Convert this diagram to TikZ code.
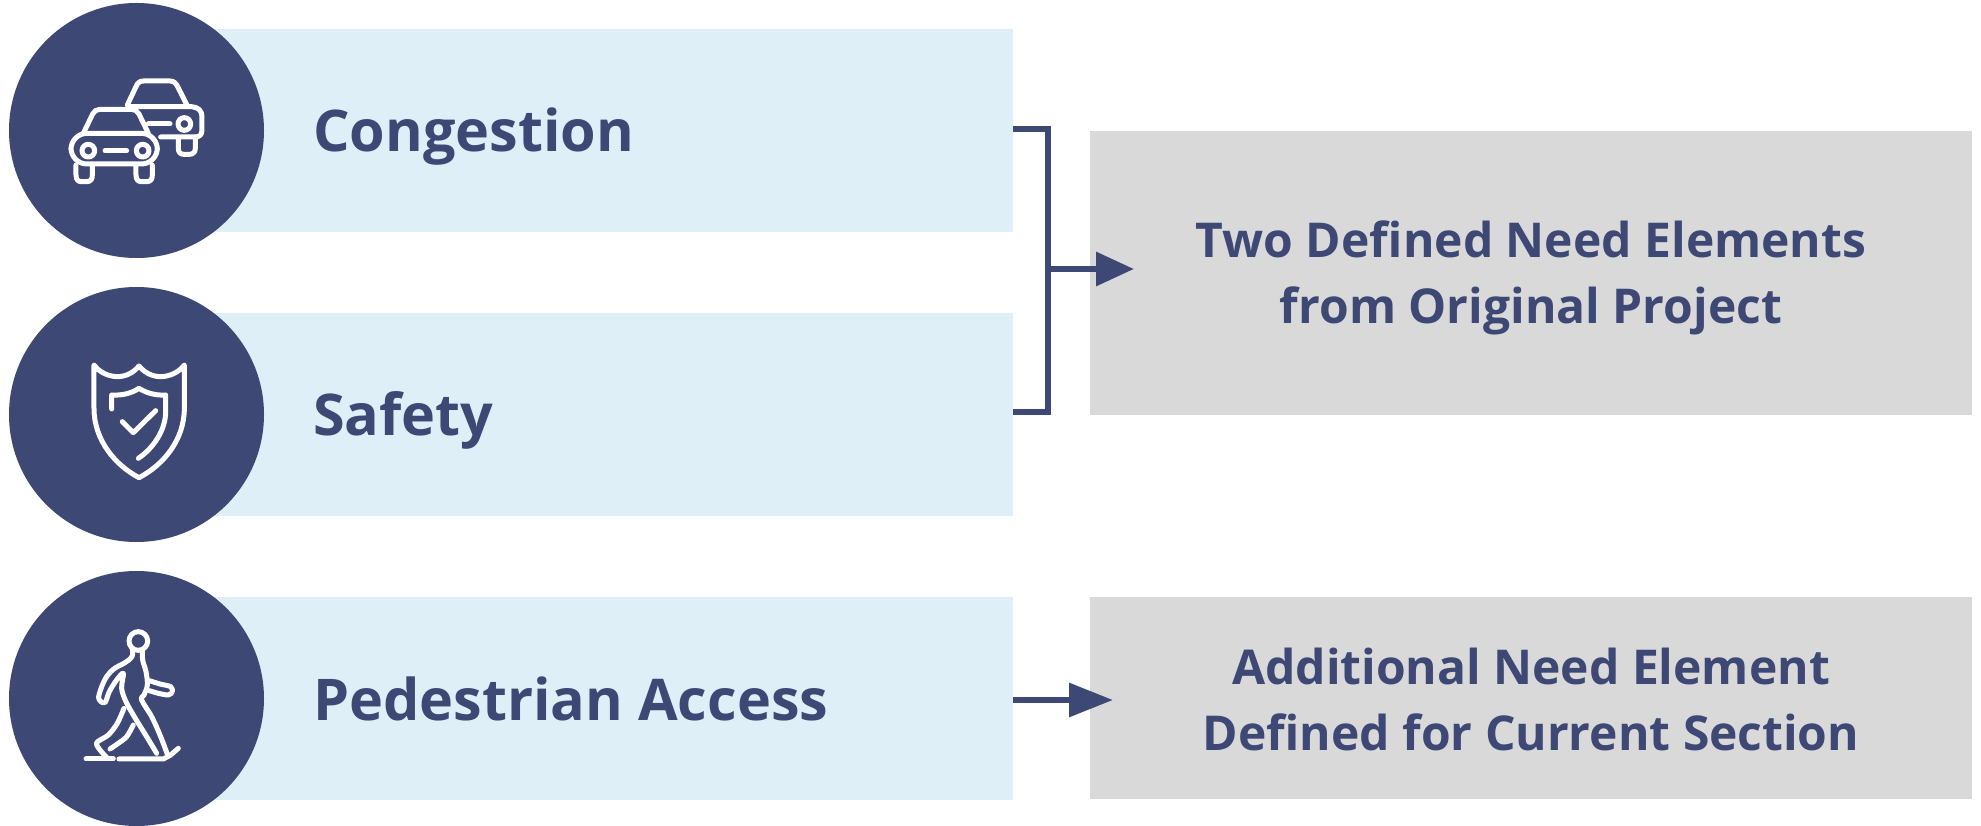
\documentclass[tikz,border=0pt]{standalone}
\usepackage{fontspec}
\setmainfont{Open Sans}
\usetikzlibrary{arrows.meta,calc}
\definecolor{navy}{HTML}{3D4875}
\definecolor{band}{HTML}{DFEFF8}
\definecolor{graybox}{HTML}{D9D9D9}
\tikzset{
  bandbox/.style={fill=band,draw=none,inner sep=0pt,minimum width=877pt,minimum height=203pt},
  graycell/.style={fill=graybox,draw=none,inner sep=0pt,minimum width=882pt,minimum height=284pt},
  graycellb/.style={fill=graybox,draw=none,inner sep=0pt,minimum width=882pt,minimum height=202pt},
  caption/.style={text=navy,align=center,inner sep=0pt,font=\fontsize{48}{66}\selectfont\bfseries},
  disc/.style={circle,fill=navy,draw=none,inner sep=0pt,minimum size=255pt},
  label/.style={text=navy,anchor=base west,inner sep=0pt,font=\fontsize{57.5}{66}\selectfont\bfseries},
  link/.style={draw=navy,line width=6.4pt,line join=miter},
  head/.style={-{Triangle[length=38pt,width=33pt]}},
  headb/.style={-{Triangle[length=44pt,width=33pt]}},
  icon/.style={draw=white,line width=5pt,line cap=round,line join=round,scale=1/3}
}
\begin{document}
\begin{tikzpicture}[x=1pt,y=-1pt]
\useasboundingbox (0,0) rectangle (1981,826);
% bands
\node[bandbox] (b1) at (574.5,130.5) {};
\node[bandbox] (b2) at (574.5,414.5) {};
\node[bandbox] (b3) at (574.5,698) {};
% discs
\node[disc] (c1) at (136.5,130.5) {};
\node[disc] (c2) at (136.5,414.5) {};
\node[disc] (c3) at (136.5,698.5) {};
% labels
\node[label] (t1) at (313,152) {Congestion};
\node[label] (t2) at (313,435) {Safety};
\node[label] (t3) at (313,720) {Pedestrian Access};
% right boxes
\node[graycell] (g1) at (1531,273) {};
\node[graycellb] (g2) at (1531,698) {};
\node[caption] (g1t) at (1531,278) {Two Defined Need Elements\\from Original Project};
\node[caption] (g2t) at (1531,699) {Additional Need Element\\Defined for Current Section};
% connectors
\coordinate (ja) at ($(b1.east)+(0,-1.5)$);
\coordinate (jb) at ($(b2.east)+(0,-2.5)$);
\coordinate (jc) at (1048,269);
\coordinate (jt) at (1134,269);
\coordinate (kt) at (1113,700);
\coordinate (ks) at (b3.east |- kt);
\draw[link] (ja) -| (jc) |- (jb);
\draw[link,head] (jc) -- (jt);
\draw[link,headb] (ks) -- (kt);
% car icon
\begin{scope}[icon]
\draw (250,400) -- (278,342) .. controls (282,333) and (290,328) .. (300,328) -- (395,328) .. controls (405,328) and (412,333) .. (417,342) -- (445,400);
\draw[rounded corners=16pt] (213,400) rectangle (472,492);
\draw (228,495) -- (228,525) .. controls (228,540) and (235,545) .. (245,545) -- (260,545) .. controls (272,545) and (277,538) .. (277,525) -- (277,495);
\draw (408,495) -- (408,525) .. controls (408,540) and (415,545) .. (425,545) -- (440,545) .. controls (452,545) and (457,538) .. (457,525) -- (457,495);
\draw (265,452) circle (19);
\draw (428,452) circle (19);
\draw (315,452) -- (380,452);
\draw (382,315) -- (408,260) .. controls (412,250) and (418,243) .. (430,243) -- (510,243) .. controls (522,243) and (528,250) .. (533,260) -- (562,318);
\draw (385,320) -- (575,320) .. controls (595,322) and (606,332) .. (606,350) -- (606,390) .. controls (606,405) and (598,411) .. (585,411) -- (482,411);
\draw (535,415) -- (535,445) .. controls (535,458) and (542,463) .. (552,463) -- (568,463) .. controls (580,463) and (586,456) .. (586,445) -- (586,411);
\draw (553,372) circle (19);
\draw (445,372) -- (510,372);
% shield icon
\begin{scope}[shift={(0,840)}]
\draw (282,255) .. controls (305,288) and (372,312) .. (417,258) .. controls (462,312) and (530,288) .. (553,255) -- (553,385) .. controls (553,480) and (490,555) .. (417,593) .. controls (345,555) and (282,480) .. (282,385) -- cycle;
\draw (335,387) -- (335,345) .. controls (365,347) and (395,340) .. (417,325) .. controls (440,340) and (470,347) .. (497,345) -- (497,395) .. controls (497,450) and (460,505) .. (415,535);
\draw (367,425) -- (400,458) -- (467,392);
\end{scope}
% walker icon
\begin{scope}[shift={(0,1680)}]
\draw (415,243) circle (28);
\draw plot[smooth,tension=0.6] coordinates {(397,268) (396,290) (375,308) (340,328) (315,358) (297,405) (300,422) (315,428) (328,395) (350,360) (370,340) (365,385) (378,425) (403,470) (440,530) (470,580)};
\draw plot[smooth,tension=0.6] coordinates {(427,268) (428,300) (438,335) (442,375) (432,405) (425,420) (455,470) (480,525) (503,585)};
\draw plot[smooth,tension=0.5] coordinates {(448,362) (480,372) (512,380) (517,395) (505,405) (475,400) (448,392)};
\draw plot[smooth,tension=0.5] coordinates {(372,445) (352,490) (325,525) (290,548) (300,570) (320,592)};
\draw plot[smooth,tension=0.5] coordinates {(400,495) (380,530) (352,552) (330,567)};
\draw (258,597) -- (340,597);
\draw (357,597) -- (490,597) -- (512,585) -- (535,565);
\end{scope}
\end{scope}
\end{tikzpicture}
\end{document}
